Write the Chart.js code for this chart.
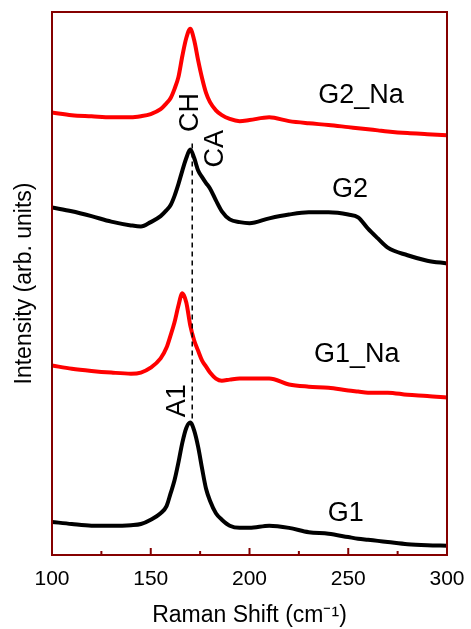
<!DOCTYPE html>
<html lang="en">
<head>
    <meta charset="UTF-8">
    <title>Raman spectra</title>
    <script src="https://cdn.jsdelivr.net/npm/chart.js"></script>
    <style>
        html, body { margin: 0; padding: 0; background: #fff; }
        #wrap { width: 471px; height: 629px; }
    </style>
</head>
<body>
    <div id="wrap"><canvas id="ramanChart"></canvas></div>

    <script>
        // Raman shift grid (cm-1) and the four spectra (arb. units, stacked)
        const shift = [100, 110, 120, 130, 140, 145, 150, 155, 158, 160, 162, 164, 166, 168, 170, 172, 174, 176, 178, 180,
                       183, 186, 190, 195, 200, 210, 220, 230, 240, 250, 255, 260, 265, 270, 280, 290, 300];
        const g1   = [6.1, 5.7, 5.4, 5.4, 5.5, 5.7, 6.5, 7.7, 9.0, 11.3, 13.7, 17.0, 20.7, 23.4, 24.4, 22.9, 19.9, 15.9, 12.2, 10.0,
                      7.7, 6.5, 5.4, 5.0, 5.0, 5.4, 5.0, 4.2, 3.9, 3.3, 3.0, 2.8, 2.6, 2.4, 2.0, 1.8, 1.7];
        const g1Na = [34.9, 34.3, 33.9, 33.6, 33.4, 33.6, 34.5, 36.2, 38.2, 40.4, 42.8, 45.9, 48.2, 46.5, 42.3, 39.5, 37.6, 35.8, 34.7, 33.6,
                      32.5, 32.1, 32.3, 32.5, 32.5, 32.5, 31.4, 31.0, 30.8, 30.3, 30.1, 29.9, 29.9, 29.9, 29.5, 29.3, 29.0];
        const g2   = [64.0, 63.3, 62.4, 61.4, 60.7, 60.5, 61.3, 62.4, 63.5, 64.4, 66.1, 68.3, 70.8, 73.1, 74.7, 73.1, 70.8, 69.6, 68.5, 67.5,
                      65.3, 63.3, 61.8, 61.3, 61.1, 62.0, 62.7, 63.1, 63.1, 62.7, 62.2, 60.1, 58.3, 56.6, 55.2, 54.2, 53.7];
        const g2Na = [81.5, 81.0, 80.8, 80.6, 80.6, 80.8, 81.2, 82.1, 83.2, 84.1, 85.8, 88.0, 91.9, 95.2, 96.9, 94.8, 91.1, 87.8, 85.1, 83.4,
                      81.9, 81.0, 80.3, 79.9, 80.1, 80.6, 79.9, 79.5, 79.2, 78.8, 78.6, 78.4, 78.2, 78.0, 77.7, 77.5, 77.3];

        // dashed guide linking the G2 and G1 peaks
        const guideX = [171, 171];
        const guideY = [75.8, 24.4];

        // curve labels and band assignments
        const labelText = ['G2_Na', 'G2', 'G1_Na', 'G1'];
        const labelX    = [256.5, 250.9, 254.3, 248.8];
        const labelY    = [84.7, 67.3, 36.9, 7.6];
        const bandText  = ['CH', 'CA', 'A1'];
        const bandX     = [169.9, 183.0, 163.8];
        const bandY     = [81.5, 74.8, 28.4];

        const FONT = 'Arial, "Liberation Sans", sans-serif';
        const FRAME = '#850000';

        const pts = (ys) => shift.map((x, i) => ({ x: x, y: ys[i] }));

        // frame, inward ticks and text labels
        const decor = {
            id: 'decor',
            afterDatasetsDraw(chart) {
                const { ctx, chartArea: a, scales: { x, y } } = chart;
                ctx.save();
                ctx.strokeStyle = FRAME;
                ctx.lineWidth = 2;
                ctx.strokeRect(a.left, a.top, a.right - a.left, a.bottom - a.top);
                for (let v = 100; v <= 300; v += 25) {
                    const px = x.getPixelForValue(v);
                    const len = (v % 50 === 0) ? 7 : 4;
                    ctx.beginPath();
                    ctx.moveTo(px, a.bottom);
                    ctx.lineTo(px, a.bottom - len);
                    ctx.stroke();
                }
                ctx.fillStyle = '#000';
                ctx.font = '27px ' + FONT;
                ctx.textAlign = 'center';
                ctx.textBaseline = 'middle';
                labelText.forEach((t, i) => {
                    ctx.fillText(t, x.getPixelForValue(labelX[i]), y.getPixelForValue(labelY[i]));
                });
                bandText.forEach((t, i) => {
                    ctx.save();
                    ctx.translate(x.getPixelForValue(bandX[i]), y.getPixelForValue(bandY[i]));
                    ctx.rotate(-Math.PI / 2);
                    ctx.fillText(t, 0, 0);
                    ctx.restore();
                });
                ctx.restore();
            }
        };

        const line = (label, ys, color) => ({
            label: label,
            data: pts(ys),
            borderColor: color,
            borderWidth: 4,
            pointRadius: 0,
            cubicInterpolationMode: 'monotone',
            fill: false
        });

        new Chart(document.getElementById('ramanChart'), {
            type: 'line',
            data: {
                datasets: [
                    {
                        label: 'guide',
                        data: guideX.map((x, i) => ({ x: x, y: guideY[i] })),
                        borderColor: '#000',
                        borderWidth: 1.5,
                        borderDash: [5, 4],
                        pointRadius: 0
                    },
                    line('G1', g1, '#000000'),
                    line('G1_Na', g1Na, '#ff0000'),
                    line('G2', g2, '#000000'),
                    line('G2_Na', g2Na, '#ff0000')
                ]
            },
            options: {
                responsive: true,
                maintainAspectRatio: false,
                animation: false,
                layout: { padding: { top: 12, right: 24, left: 0, bottom: 0 } },
                plugins: { legend: { display: false }, tooltip: { enabled: false } },
                scales: {
                    x: {
                        type: 'linear',
                        min: 100,
                        max: 300,
                        grid: { display: false, drawTicks: false },
                        border: { display: false },
                        ticks: { stepSize: 50, padding: 12, color: '#000', font: { family: FONT, size: 21 } },
                        title: {
                            display: true,
                            text: 'Raman Shift (cm\u207B\u00B9)',
                            color: '#000',
                            font: { family: FONT, size: 23 },
                            padding: { top: 0, bottom: 0 }
                        },
                        afterFit: (s) => { s.height = 74; s.paddingLeft = 0; s.paddingRight = 0; }
                    },
                    y: {
                        min: 0,
                        max: 100,
                        grid: { display: false, drawTicks: false },
                        border: { display: false },
                        ticks: { display: false },
                        title: {
                            display: true,
                            text: 'Intensity (arb. units)',
                            color: '#000',
                            font: { family: FONT, size: 23 },
                            padding: { top: 11, bottom: 0 }
                        },
                        afterFit: (s) => { s.width = 52; }
                    }
                }
            },
            plugins: [decor]
        });
    </script>
</body>
</html>
